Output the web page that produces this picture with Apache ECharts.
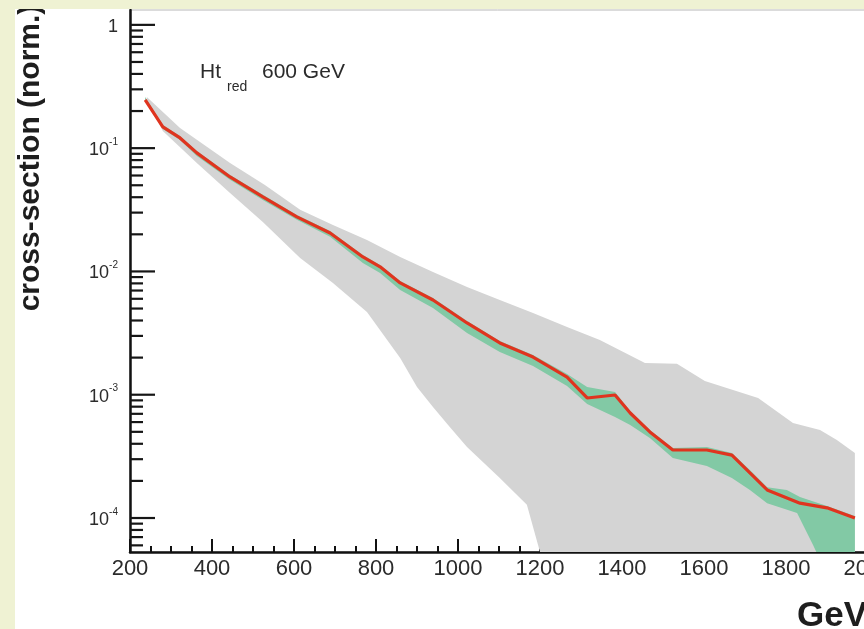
<!DOCTYPE html>
<html><head><meta charset="utf-8">
<script src="https://cdn.jsdelivr.net/npm/echarts@6/dist/echarts.min.js"></script>
<style>
html,body{margin:0;padding:0;background:#eff2d3;overflow:hidden;width:864px;height:629px;}
#chart{position:absolute;left:15px;top:9px;width:849px;height:620px;background:#ffffff;}
</style></head><body><div id="chart"></div>
<script>
// ---- data (GeV, normalised cross-section) ----
const redX = [237,280,322,363,444,524,607,688,768,810,859,939,1022,1102,1183,1266,1315,1383,1420,1468,1524,1607,1668,1712,1754,1834,1900,1968];
const redY = [0.246,0.149,0.121,0.0915,0.0584,0.0402,0.0277,0.0205,0.0131,0.0109,0.00807,0.00587,0.00382,0.00263,0.00202,0.00139,0.000941,0.000995,0.000711,0.000499,0.000356,0.000356,0.000324,0.000232,0.000169,0.000132,0.000121,0.000100];

const grayUpX = [241,322,444,529,615,695,778,859,939,1022,1102,1183,1266,1346,1456,1534,1602,1732,1817,1883,1924,1968];
const grayUpY = [0.26,0.146,0.0759,0.0503,0.0316,0.0238,0.0180,0.0131,0.00991,0.00749,0.00587,0.00461,0.00355,0.00278,0.00181,0.00178,0.00129,0.000941,0.000590,0.000518,0.000430,0.000337];
const grayLoX = [241,280,363,444,524,615,695,778,859,900,939,980,1022,1102,1168,1200,1220,1968];
const grayLoY = [0.246,0.138,0.0759,0.0433,0.0252,0.01287,0.00807,0.00469,0.00199,0.001156,0.000795,0.000547,0.000377,0.000211,0.000128,0.000053,0.00001,0.00001];

const greenUpX = [237,280,322,363,444,524,607,688,768,810,859,939,1022,1102,1183,1266,1315,1383,1420,1468,1524,1607,1668,1712,1754,1802,1834,1900,1968];
const greenUpY = [0.2605,0.1544,0.1257,0.095,0.0607,0.0418,0.0287,0.0213,0.0136,0.0113,0.00838,0.0061,0.00397,0.00273,0.0021,0.00147,0.001156,0.001053,0.000738,0.000518,0.00037,0.000377,0.000337,0.000245,0.000178,0.000169,0.000148,0.000125,0.000104];
const greenLoX = [237,280,322,363,444,524,607,688,768,810,859,939,1022,1102,1183,1266,1315,1383,1420,1468,1524,1607,1668,1712,1754,1827,1866,1883,1968];
const greenLoY = [0.246,0.1433,0.1167,0.0865,0.0553,0.038,0.0262,0.0191,0.0117,0.00972,0.00708,0.00506,0.00317,0.00222,0.00171,0.001178,0.000841,0.00066,0.000568,0.000446,0.000307,0.000264,0.000211,0.000169,0.000132,0.00011,0.0000604,0.0000457,0.00001];

const xTickLabels = [200,400,600,800,1000,1200,1400,1600,1800,2000];
const yMajorTicks = [0.0001,0.001,0.01,0.1,1];
const yMinorTicks = [0.00006,0.00007,0.00008,0.00009,
  0.0002,0.0003,0.0004,0.0005,0.0006,0.0007,0.0008,0.0009,
  0.002,0.003,0.004,0.005,0.006,0.007,0.008,0.009,
  0.02,0.03,0.04,0.05,0.06,0.07,0.08,0.09,
  0.2,0.3,0.4,0.5,0.6,0.7,0.8,0.9];
const titleMain = 'Ht', titleSub = 'red', titleRest = '600 GeV';
const yName = 'cross-section (norm.)', xName = 'GeV';

// ---- helpers ----
function zip(xs, ys){ return xs.map((x,i)=>[x, ys[i]]); }
function band(name, upX, upY, loX, loY, color, z){
  const pts = zip(upX, upY).concat(zip(loX, loY).reverse());
  return {
    type:'custom', name, z, clip:true, silent:true, data: pts,
    encode:{x:0, y:1},
    renderItem(params, api){
      if (params.dataIndex !== 0) return null;
      return {type:'polygon', shape:{points: pts.map(p=>api.coord(p))}, style:{fill:color}};
    }
  };
}
function yTicks(vals, len, z){
  return {
    type:'custom', z, silent:true, clip:false,
    data: vals.map(v=>[200, v]), encode:{x:0,y:1},
    renderItem(params, api){
      const p = api.coord([api.value(0), api.value(1)]);
      return {type:'line', shape:{x1:p[0], y1:p[1], x2:p[0]+len, y2:p[1]}, style:{stroke:'#161616', lineWidth:2.2}};
    }
  };
}

const chart = echarts.init(document.getElementById('chart'), null, {renderer:'canvas'});
const txt = '#2b2b2b';
chart.setOption({
  animation:false,
  backgroundColor:'#ffffff',
  grid:{left:115, right:-4, top:1, bottom:77, outerBoundsMode:'none', containLabel:false,
        show:true, borderColor:'#b8b8b8', borderWidth:1, backgroundColor:'transparent'},
  xAxis:{
    type:'value', min:200, max:2000, interval:200,
    axisLine:{show:true, onZero:false, lineStyle:{color:'#111', width:2.5}},
    axisTick:{show:true, inside:true, length:13, lineStyle:{color:'#111', width:2}},
    minorTick:{show:true, splitNumber:4, length:6, lineStyle:{color:'#111', width:2}},
    splitLine:{show:false},
    axisLabel:{color:txt, fontSize:22, fontFamily:'Liberation Sans', margin:6, hideOverlap:false,
      formatter: v => xTickLabels.indexOf(v) >= 0 ? String(v) : ''}
  },
  yAxis:{
    type:'log', logBase:10, min:0.000053, max:1.32,
    axisLine:{show:true, lineStyle:{color:'#111', width:2.5}},
    axisTick:{show:false}, splitLine:{show:false}, minorTick:{show:false},
    axisLabel:{color:txt, fontFamily:'Liberation Sans', margin:12,
      formatter: v => {
        const e = Math.log10(v), r = Math.round(e);
        if (Math.abs(e - r) > 1e-6) return '';
        if (r === 0) return '{n|1}';
        return '{n|10}{s|' + r + '}';
      },
      rich:{ n:{fontSize:18, color:txt, fontFamily:'Liberation Sans', lineHeight:22, verticalAlign:'bottom'},
             s:{fontSize:10, color:txt, fontFamily:'Liberation Sans', lineHeight:22, verticalAlign:'top'} }
    }
  },
  graphic:[
    {type:'text', x:16, y:149, rotation:Math.PI/2, z:100,
      style:{text:yName, fill:'#1e1e1e', font:'bold 30px "Liberation Sans"', align:'center', verticalAlign:'middle'}},
    {type:'text', x:782, y:607, z:100,
      style:{text:xName, fill:'#1e1e1e', font:'bold 35px "Liberation Sans"', align:'left', verticalAlign:'middle'}},
    {type:'text', x:185, y:63, z:100,
      style:{text:titleMain, fill:txt, font:'21px "Liberation Sans"', align:'left', verticalAlign:'middle'}},
    {type:'text', x:212, y:78, z:100,
      style:{text:titleSub, fill:txt, font:'14px "Liberation Sans"', align:'left', verticalAlign:'middle'}},
    {type:'text', x:247, y:63, z:100,
      style:{text:titleRest, fill:txt, font:'21px "Liberation Sans"', align:'left', verticalAlign:'middle'}}
  ],
  series:[
    band('gray', grayUpX, grayUpY, grayLoX, grayLoY, '#d4d4d4', 2),
    band('green', greenUpX, greenUpY, greenLoX, greenLoY, '#82c9a5', 3),
    {type:'line', name:'central', data: zip(redX, redY), symbol:'none', clip:true, z:4,
      lineStyle:{color:'#e0341f', width:3.2}},
    yTicks(yMajorTicks, 25, 5),
    yTicks(yMinorTicks, 13, 5)
  ]
});
</script></body></html>
